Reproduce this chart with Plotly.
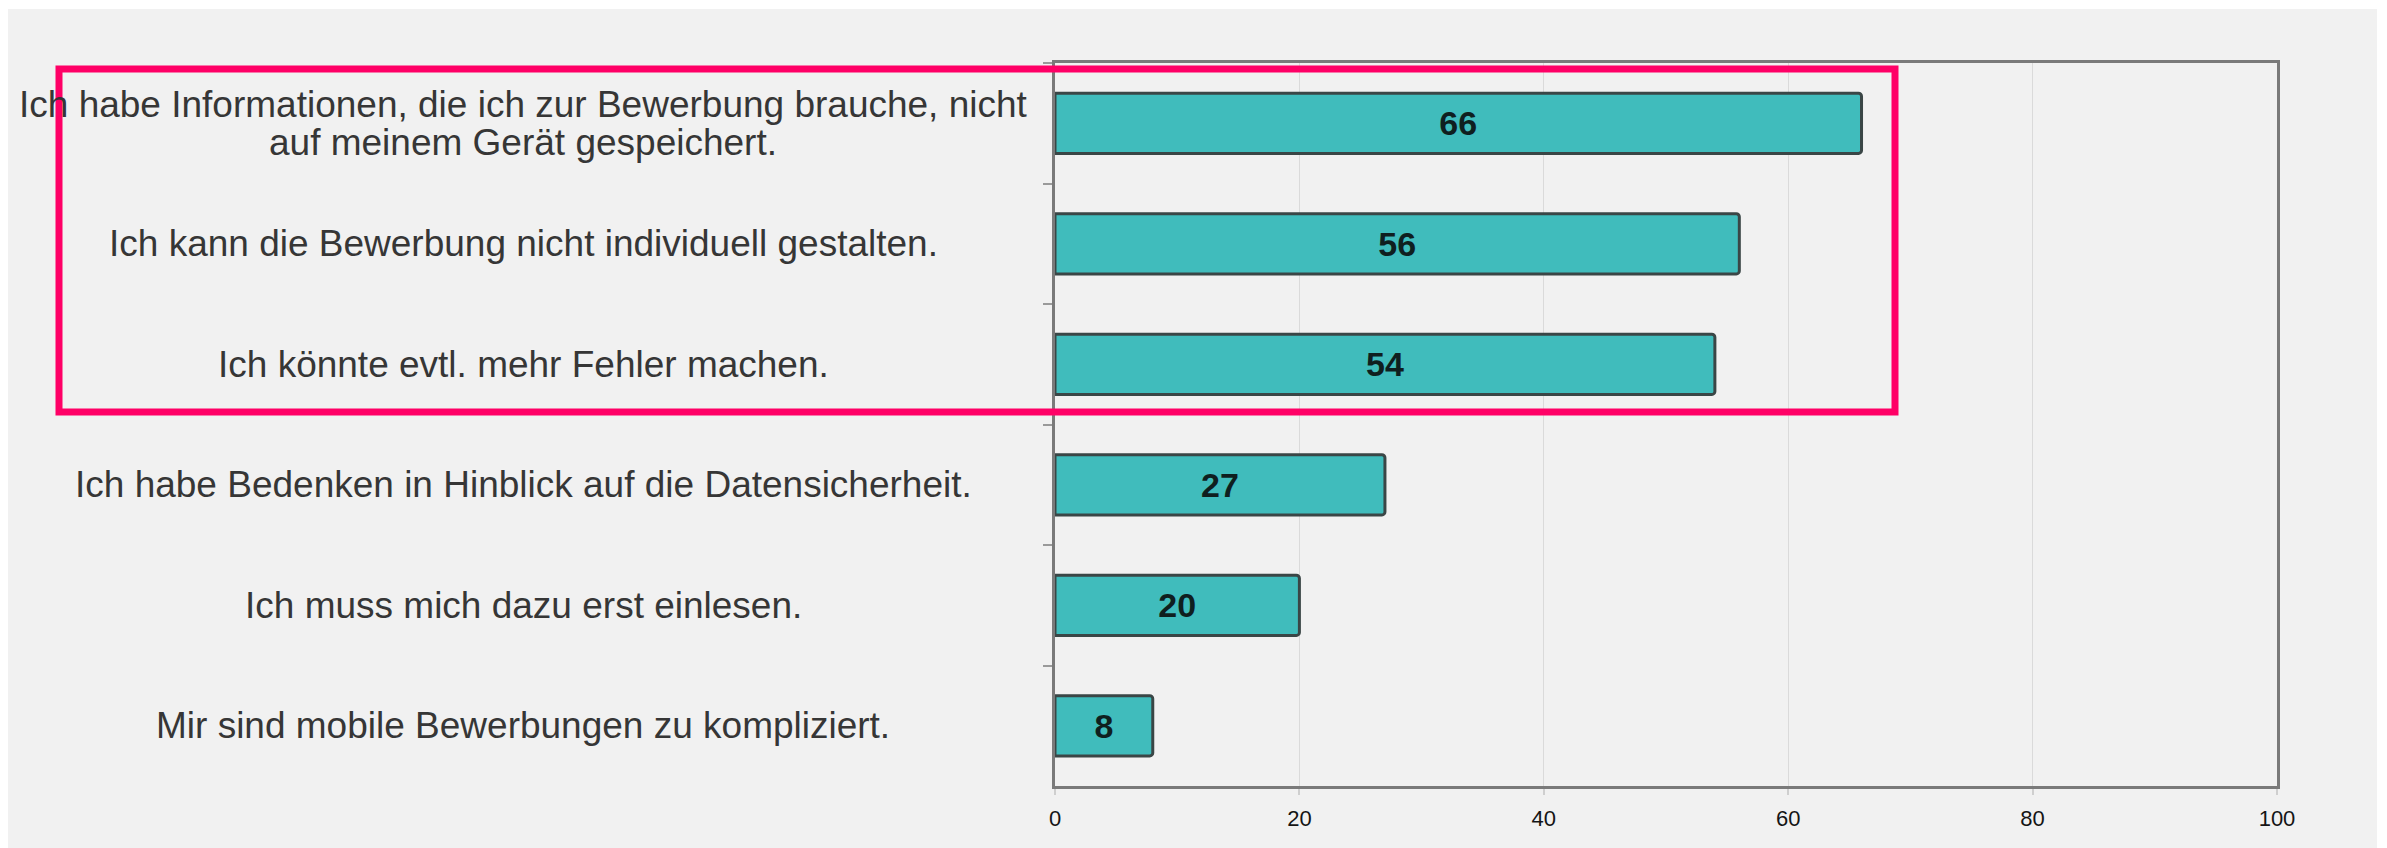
import plotly.graph_objects as go

categories = [
    "Ich habe Informationen, die ich zur Bewerbung brauche, nicht<br>auf meinem Gerät gespeichert.",
    "Ich kann die Bewerbung nicht individuell gestalten.",
    "Ich könnte evtl. mehr Fehler machen.",
    "Ich habe Bedenken in Hinblick auf die Datensicherheit.",
    "Ich muss mich dazu erst einlesen.",
    "Mir sind mobile Bewerbungen zu kompliziert.",
]
values = [66, 56, 54, 27, 20, 8]
x_ticks = [0, 20, 40, 60, 80, 100]
x_ticklabels = ["0", "20", "40", "60", "80", "100"]

W, H = 2387, 848
OFF = 8  # page body margin
# target plot area in page pixels
PL, PR, PT, PB = 1055, 2277, 63, 786
L = PL - OFF
T = PT - OFF
R = W - (PR - OFF)
B = H - (PB - OFF)

FONT = "Liberation Sans, Arial, sans-serif"

fig = go.Figure()
fig.add_trace(go.Bar(
    x=values,
    y=categories,
    orientation="h",
    marker=dict(color="#40bcbc", line=dict(color="#3a4646", width=3), cornerradius=3),
    text=[str(v) for v in values],
    textposition="inside",
    insidetextanchor="middle",
    textangle=0,
    constraintext="none",
    textfont=dict(family=FONT, size=34, color="#0f1f1f", weight="bold"),
    hoverinfo="skip",
))

pw = PR - PL
ph = PB - PT

def px(xp):
    return (xp - PL) / pw

def py(yp):
    return (PB - yp) / ph

LABEL_X = px(523)
LINE_GAP = 38
# category labels, centred in the left area
for c in categories:
    lines = c.split("<br>")
    n = len(lines)
    for i, line in enumerate(lines):
        shift = ((n - 1) / 2 - i) * LINE_GAP
        fig.add_annotation(
            x=LABEL_X, xref="paper", y=c, yref="y", yshift=shift,
            text=line, showarrow=False, xanchor="center", yanchor="middle", align="center",
            font=dict(family=FONT, size=37, color="#363636"),
        )

# grey background panel
fig.add_shape(type="rect", xref="paper", yref="paper", layer="below",
              x0=px(-50), x1=px(2377), y0=py(900), y1=py(9),
              fillcolor="#f1f1f1", line=dict(width=0))
# pink highlight frame
fig.add_shape(type="rect", xref="paper", yref="paper", layer="above",
              x0=px(59), x1=px(1895), y0=py(412), y1=py(69),
              fillcolor="rgba(0,0,0,0)", line=dict(color="#ff0066", width=7))

fig.update_layout(
    width=W, height=H,
    margin=dict(l=L, r=R, t=T, b=B, autoexpand=False),
    paper_bgcolor="#ffffff",
    plot_bgcolor="#f1f1f1",
    showlegend=False,
    bargap=0.5,
    font=dict(family=FONT, color="#333333"),
    xaxis=dict(
        range=[0, 100], tickvals=x_ticks, ticktext=x_ticklabels,
        showgrid=True, gridcolor="#dadada", gridwidth=1.2,
        showline=True, linecolor="#7a7a7a", linewidth=3, mirror=True,
        zeroline=False, ticks="outside", ticklen=6, tickcolor="#cfcfcf", tickwidth=1.5,
        ticklabelstandoff=5,
        tickfont=dict(family=FONT, size=22, color="#151515"),
    ),
    yaxis=dict(
        autorange="reversed", showticklabels=False,
        ticks="outside", tickson="boundaries", ticklen=9, tickcolor="#9a9a9a", tickwidth=2,
        showline=True, linecolor="#7a7a7a", linewidth=3, mirror=True,
        showgrid=False, zeroline=False,
    ),
)

fig.write_html("out.html")
